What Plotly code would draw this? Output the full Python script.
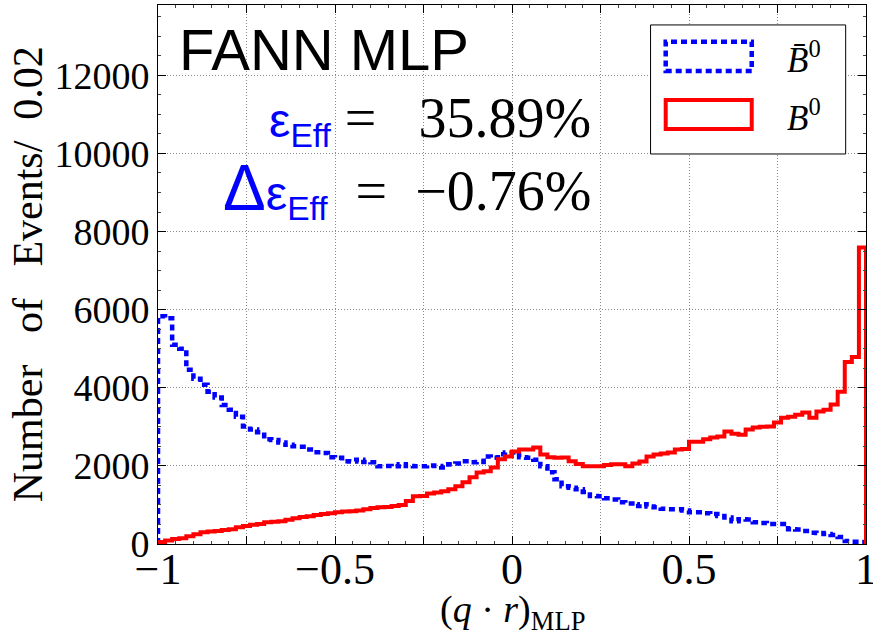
import plotly.graph_objects as go

# ---- data ----
bin_edges = [round(-1 + 0.02 * i, 2) for i in range(101)]

bbar_counts = [
    5830, 5780, 5100, 5000, 4460, 4230, 4080, 3900, 3750, 3560,
    3440, 3260, 3010, 2930, 2860, 2680, 2660, 2600, 2540, 2500,
    2490, 2420, 2350, 2330, 2220, 2210, 2120, 2110, 2160, 2100,
    2090, 1990, 2000, 1990, 2040, 2000, 1990, 1990, 2010, 2000,
    1960, 2040, 2060, 2120, 2090, 2100, 2240, 2210, 2300, 2340,
    2340, 2220, 2210, 2160, 1990, 1840, 1660, 1480, 1440, 1400,
    1330, 1230, 1220, 1170, 1140, 1070, 1040, 970, 1020, 960,
    940, 900, 890, 890, 860, 815, 815, 790, 765, 715,
    680, 585, 635, 630, 560, 540, 510, 510, 510, 380,
    370, 330, 290, 280, 255, 230, 178, 76, 60, 50,
]

b_counts = [
    50, 90, 130, 150, 200, 250, 300, 320, 330, 360,
    380, 430, 460, 490, 510, 560, 570, 585, 620, 660,
    690, 713, 740, 765, 790, 815, 830, 840, 860, 890,
    920, 940, 950, 970, 1000, 1100, 1220, 1230, 1290, 1320,
    1350, 1400, 1480, 1580, 1710, 1830, 1860, 1960, 2170, 2240,
    2370, 2420, 2420, 2470, 2290, 2220, 2210, 2215, 2120, 2050,
    1990, 1990, 1990, 2020, 2040, 2040, 1990, 2060, 2115, 2240,
    2290, 2320, 2340, 2420, 2430, 2620, 2620, 2680, 2725, 2750,
    2880, 2820, 2800, 2930, 2980, 3000, 3010, 3110, 3235, 3260,
    3310, 3365, 3235, 3390, 3440, 3570, 3900, 4660, 4790, 7590,
]

x_tickvals = [-1, -0.75, -0.5, -0.25, 0, 0.25, 0.5, 0.75, 1]
x_ticktext = ["\u22121", "", "\u22120.5", "", "0", "", "0.5", "", "1"]
y_tickvals = [0, 2000, 4000, 6000, 8000, 10000, 12000]
y_ticktext = ["0", "2000", "4000", "6000", "8000", "10000", "12000"]

eff_text = "35.89%"
deff_text = "\u22120.76%"


def step_xy(edges, counts):
    xs = [edges[0]] + list(edges)
    ys = [0] + list(counts) + [0]
    return xs, ys


fig = go.Figure()
xs, ys = step_xy(bin_edges, bbar_counts)
fig.add_trace(go.Scatter(x=xs, y=ys, mode="lines", line_shape="hv",
                         line=dict(color="#0000ff", width=4.5, dash="6px,4px"),
                         name="B\u0304<sup>0</sup>", showlegend=False))
xs, ys = step_xy(bin_edges, b_counts)
fig.add_trace(go.Scatter(x=xs, y=ys, mode="lines", line_shape="hv",
                         line=dict(color="#ff0000", width=4),
                         name="B<sup>0</sup>", showlegend=False))

serif = "Liberation Serif"
sans = "Liberation Sans"
gridc = "#8a8a8a"

fig.update_layout(
    width=873, height=638,
    margin=dict(l=158, r=7, t=5, b=94),
    paper_bgcolor="white", plot_bgcolor="white",
    font=dict(family=serif, color="black"),
    xaxis=dict(range=[-1, 1], tickvals=x_tickvals, ticktext=x_ticktext,
               automargin=False,
               ticks="inside", ticklen=8, tickcolor="black",
               showline=True, linecolor="black", linewidth=1, mirror="allticks",
               showgrid=True, gridcolor=gridc, griddash="1px,2px", gridwidth=1,
               zeroline=False, tickfont=dict(family=serif, size=44, color="black"),
               ticklabeloverflow="allow", ticklabelstandoff=-14,
               minor=dict(ticks="inside", ticklen=3, dtick=0.05, tickcolor="#444", showgrid=False)),
    yaxis=dict(range=[0, 13800], tickvals=y_tickvals, ticktext=y_ticktext,
               automargin=False,
               ticks="inside", ticklen=8, tickcolor="black",
               showline=True, linecolor="black", linewidth=1, mirror="allticks",
               showgrid=True, gridcolor=gridc, griddash="1px,2px", gridwidth=1,
               zeroline=False, tickfont=dict(family=serif, size=38, color="black"),
               ticklabeloverflow="allow",
               minor=dict(ticks="inside", ticklen=3, dtick=500, tickcolor="#444", showgrid=False)),
)

# manual legend box (patch style like the original)
fig.add_shape(type="rect", xref="paper", yref="paper", x0=0.6957, x1=0.9713, y0=0.7236, y1=0.963,
              line=dict(color="black", width=1), fillcolor="white", layer="above")
fig.add_shape(type="rect", xref="paper", yref="paper", x0=0.7171, x1=0.8386, y0=0.8776, y1=0.9319,
              line=dict(color="#0000ff", width=4.5, dash="6px,4px"), fillcolor="rgba(0,0,0,0)", layer="above")
fig.add_shape(type="rect", xref="paper", yref="paper", x0=0.7171, x1=0.8386, y0=0.7699, y1=0.8237,
              line=dict(color="#ff0000", width=4), fillcolor="rgba(0,0,0,0)", layer="above")
fig.add_annotation(xref="paper", yref="paper", x=0.8856, y=0.9035, xanchor="left", yanchor="middle",
                   text="<i>B\u0304</i><sup>0</sup>", showarrow=False,
                   font=dict(family=serif, size=35, color="black"))
fig.add_annotation(xref="paper", yref="paper", x=0.8856, y=0.7959, xanchor="left", yanchor="middle",
                   text="<i>B</i><sup>0</sup>", showarrow=False,
                   font=dict(family=serif, size=35, color="black"))

# FANN MLP label
fig.add_annotation(xref="paper", yref="paper", x=0.027, y=0.9174, xanchor="left", yanchor="middle",
                   text="FANN MLP", showarrow=False,
                   font=dict(family=sans, size=58, color="black"))

# efficiency texts
nb = "\u00a0"
blue = '<span style="color:#0000ff;font-family:Liberation Sans">'
eps = '<span style="font-size:48px">\u03b5<sub>Eff</sub></span>'
delta = '<span style="font-size:64px">\u0394</span>'
fig.add_annotation(xref="paper", yref="paper", x=0.615, y=0.785, xanchor="right", yanchor="middle",
                   text=blue + eps + "</span>" + nb + "=" + nb * 3 + eff_text, showarrow=False,
                   font=dict(family=serif, size=56, color="black"))
fig.add_annotation(xref="paper", yref="paper", x=0.615, y=0.657, xanchor="right", yanchor="middle",
                   text=blue + delta + eps + "</span>" + nb * 2 + "=" + nb * 2 + deff_text, showarrow=False,
                   font=dict(family=serif, size=56, color="black"))

# axis titles
fig.add_annotation(xref="paper", yref="paper", x=0.5, y=-0.127, xanchor="center", yanchor="middle",
                   text="(<i>q</i> \u00b7 <i>r</i>)<sub>MLP</sub>", showarrow=False,
                   font=dict(family=serif, size=38, color="black"))
fig.add_annotation(xref="paper", yref="paper", x=-0.184, y=0.5, xanchor="center", yanchor="middle",
                   text="Number" + nb * 3 + "of" + nb * 3 + "Events/" + nb * 2 + "0.02",
                   textangle=-90, showarrow=False,
                   font=dict(family=serif, size=42, color="black"))

fig.write_html("out.html")
